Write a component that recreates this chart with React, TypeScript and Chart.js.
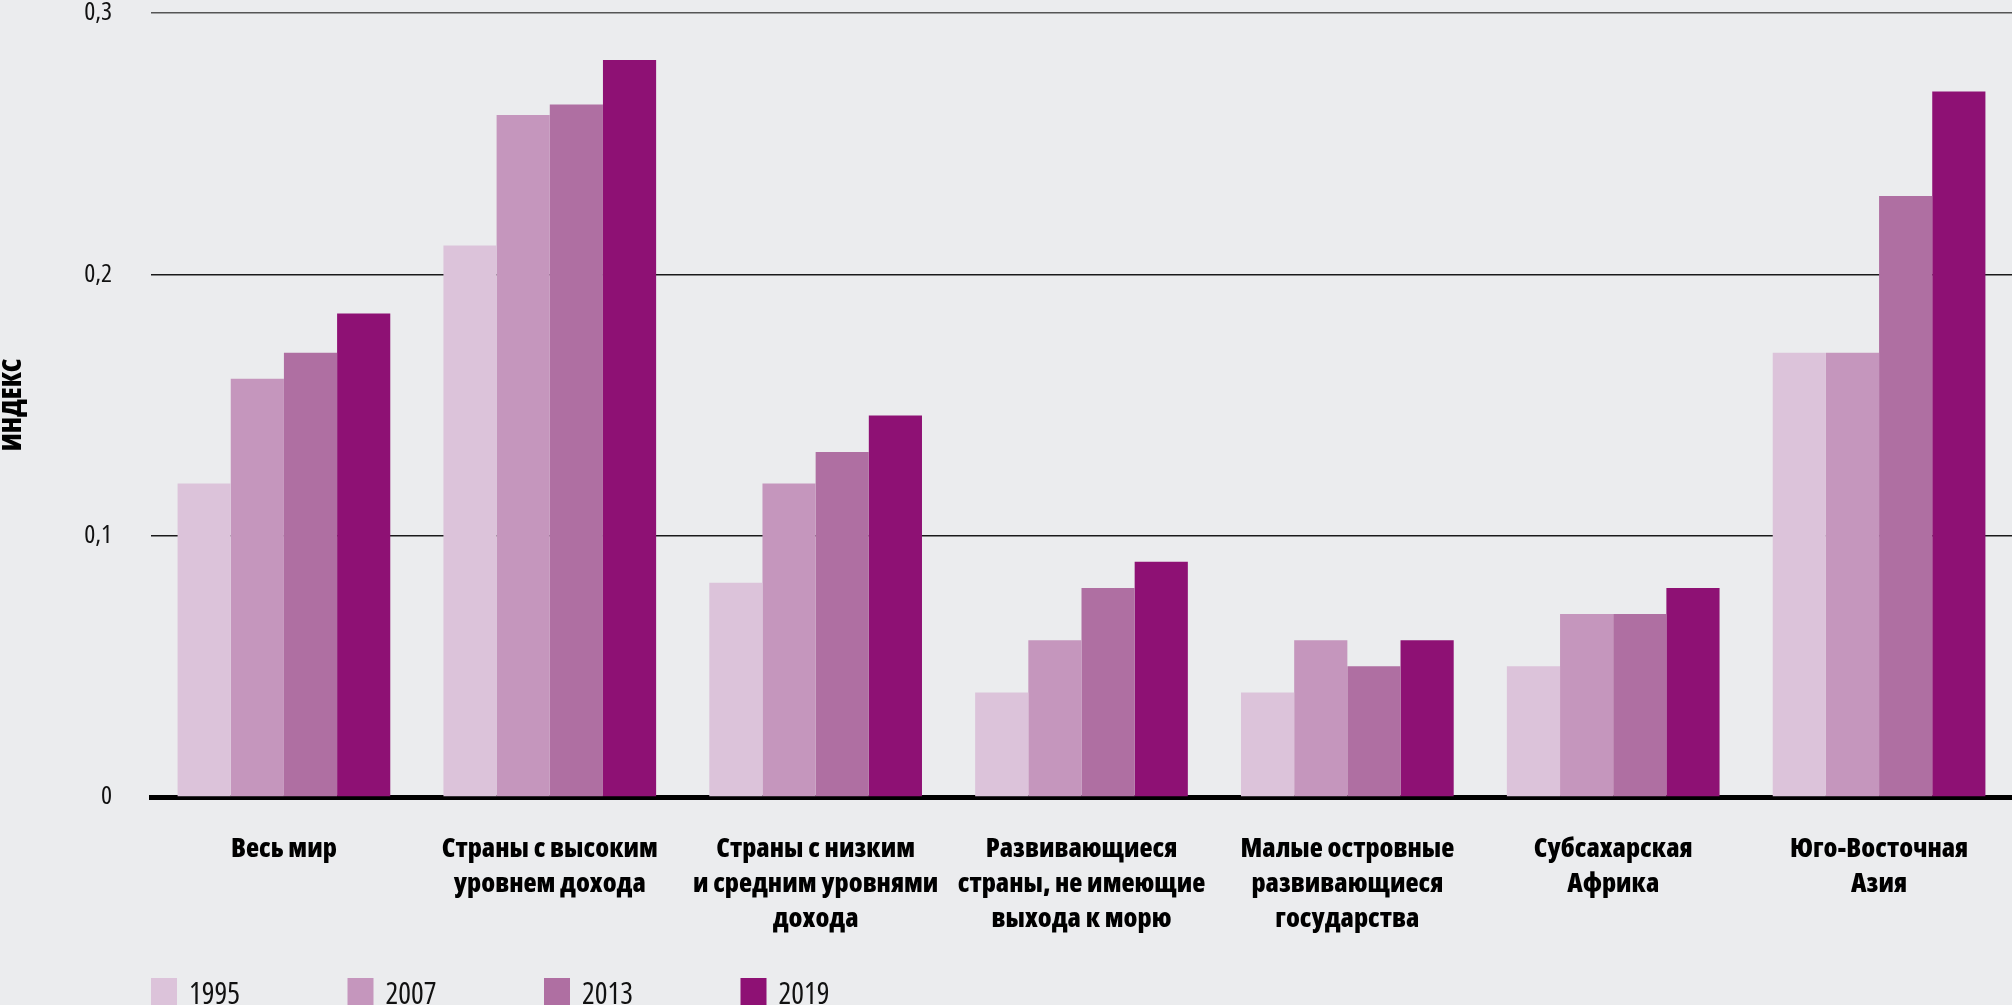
import React, { useEffect, useRef } from "react";
import { Chart, registerables } from "chart.js";

Chart.register(...registerables);

const categories: string[][] = [
  ["Весь мир"],
  ["Страны с высоким", "уровнем дохода"],
  ["Страны с низким", "и средним уровнями", "дохода"],
  ["Развивающиеся", "страны, не имеющие", "выхода к морю"],
  ["Малые островные", "развивающиеся", "государства"],
  ["Субсахарская", "Африка"],
  ["Юго-Восточная", "Азия"],
];

const seriesLabels = ["1995", "2007", "2013", "2019"];
const values1995 = [0.12, 0.211, 0.082, 0.04, 0.04, 0.05, 0.17];
const values2007 = [0.16, 0.261, 0.12, 0.06, 0.06, 0.07, 0.17];
const values2013 = [0.17, 0.265, 0.132, 0.08, 0.05, 0.07, 0.23];
const values2019 = [0.185, 0.282, 0.146, 0.09, 0.06, 0.08, 0.27];
const seriesColors = ["#dcc3da", "#c596bd", "#af6fa2", "#8e1174"];

const yTicks = [0, 0.1, 0.2, 0.3];
const yTitle = "ИНДЕКС";

const FAMILY = "'Open Sans', 'DejaVu Sans Condensed', sans-serif";
const BG = "#ebecee";

export default function App() {
  const ref = useRef<HTMLCanvasElement | null>(null);

  useEffect(() => {
    document.body.style.margin = "0";
    document.body.style.background = BG;
    if (!ref.current) return;

    const bgPlugin = {
      id: "bg",
      beforeDraw(chart: any) {
        const { ctx, width, height } = chart;
        ctx.save();
        ctx.fillStyle = BG;
        ctx.fillRect(0, 0, width, height);
        ctx.restore();
      },
    };

    const legendPlugin = {
      id: "customLegend",
      afterDraw(chart: any) {
        const { ctx } = chart;
        const left = chart.chartArea.left;
        ctx.save();
        chart.data.datasets.forEach((ds: any, i: number) => {
          const x = left + i * 196.5;
          ctx.fillStyle = ds.backgroundColor;
          ctx.fillRect(x, 978, 26, 30);
          ctx.fillStyle = "#111";
          ctx.font = `condensed 30px ${FAMILY}`;
          ctx.textBaseline = "alphabetic";
          ctx.textAlign = "left";
          ctx.fillText(ds.label, x + 38, 1004);
        });
        ctx.restore();
      },
    };

    const datasets = [values1995, values2007, values2013, values2019].map((vals, i) => ({
      label: seriesLabels[i],
      data: vals,
      backgroundColor: seriesColors[i],
      borderWidth: 0,
      categoryPercentage: 0.8,
      barPercentage: 1.0,
    }));

    const chart = new Chart(ref.current, {
      type: "bar",
      data: { labels: categories, datasets },
      options: {
        animation: false,
        responsive: true,
        maintainAspectRatio: false,
        layout: { padding: 0 },
        plugins: {
          legend: { display: false },
          tooltip: { enabled: false },
        },
        scales: {
          x: {
            grid: { display: false, drawTicks: false },
            border: { display: true, color: "#000", width: 5 },
            ticks: {
              color: "#000",
              font: { family: FAMILY, size: 27, weight: "800 condensed" as any, lineHeight: 35 / 27 },
              padding: 35,
              maxRotation: 0,
              autoSkip: false,
            },
            afterFit: (s: any) => {
              s.height = 208;
            },
          },
          y: {
            min: 0,
            max: 0.3,
            afterBuildTicks: (s: any) => {
              s.ticks = yTicks.map((v) => ({ value: v }));
            },
            ticks: {
              color: "#111",
              font: { family: FAMILY, size: 26, weight: "condensed" as any },
              padding: 39,
              callback: (v: any) => (Number(v) === 0 ? "0" : Number(v).toFixed(1).replace(".", ",")),
            },
            grid: {
              drawTicks: false,
              color: (ctx: any) => (ctx.tick && ctx.tick.value === 0.3 ? "#555" : "#1a1a1a"),
              lineWidth: 1.5,
            },
            border: { display: false },
            title: {
              display: true,
              text: yTitle,
              color: "#000",
              font: { family: FAMILY, size: 27, weight: "800 condensed" as any, lineHeight: 1 },
              padding: 0,
            },
            afterFit: (s: any) => {
              s.width = 151;
              s.paddingTop = 13;
              s.paddingBottom = 0;
            },
          },
        },
      },
      plugins: [bgPlugin, legendPlugin],
    });

    return () => chart.destroy();
  }, []);

  return (
    <div style={{ width: 2012, height: 1005, position: "relative", background: BG }}>
      <canvas ref={ref} />
    </div>
  );
}
